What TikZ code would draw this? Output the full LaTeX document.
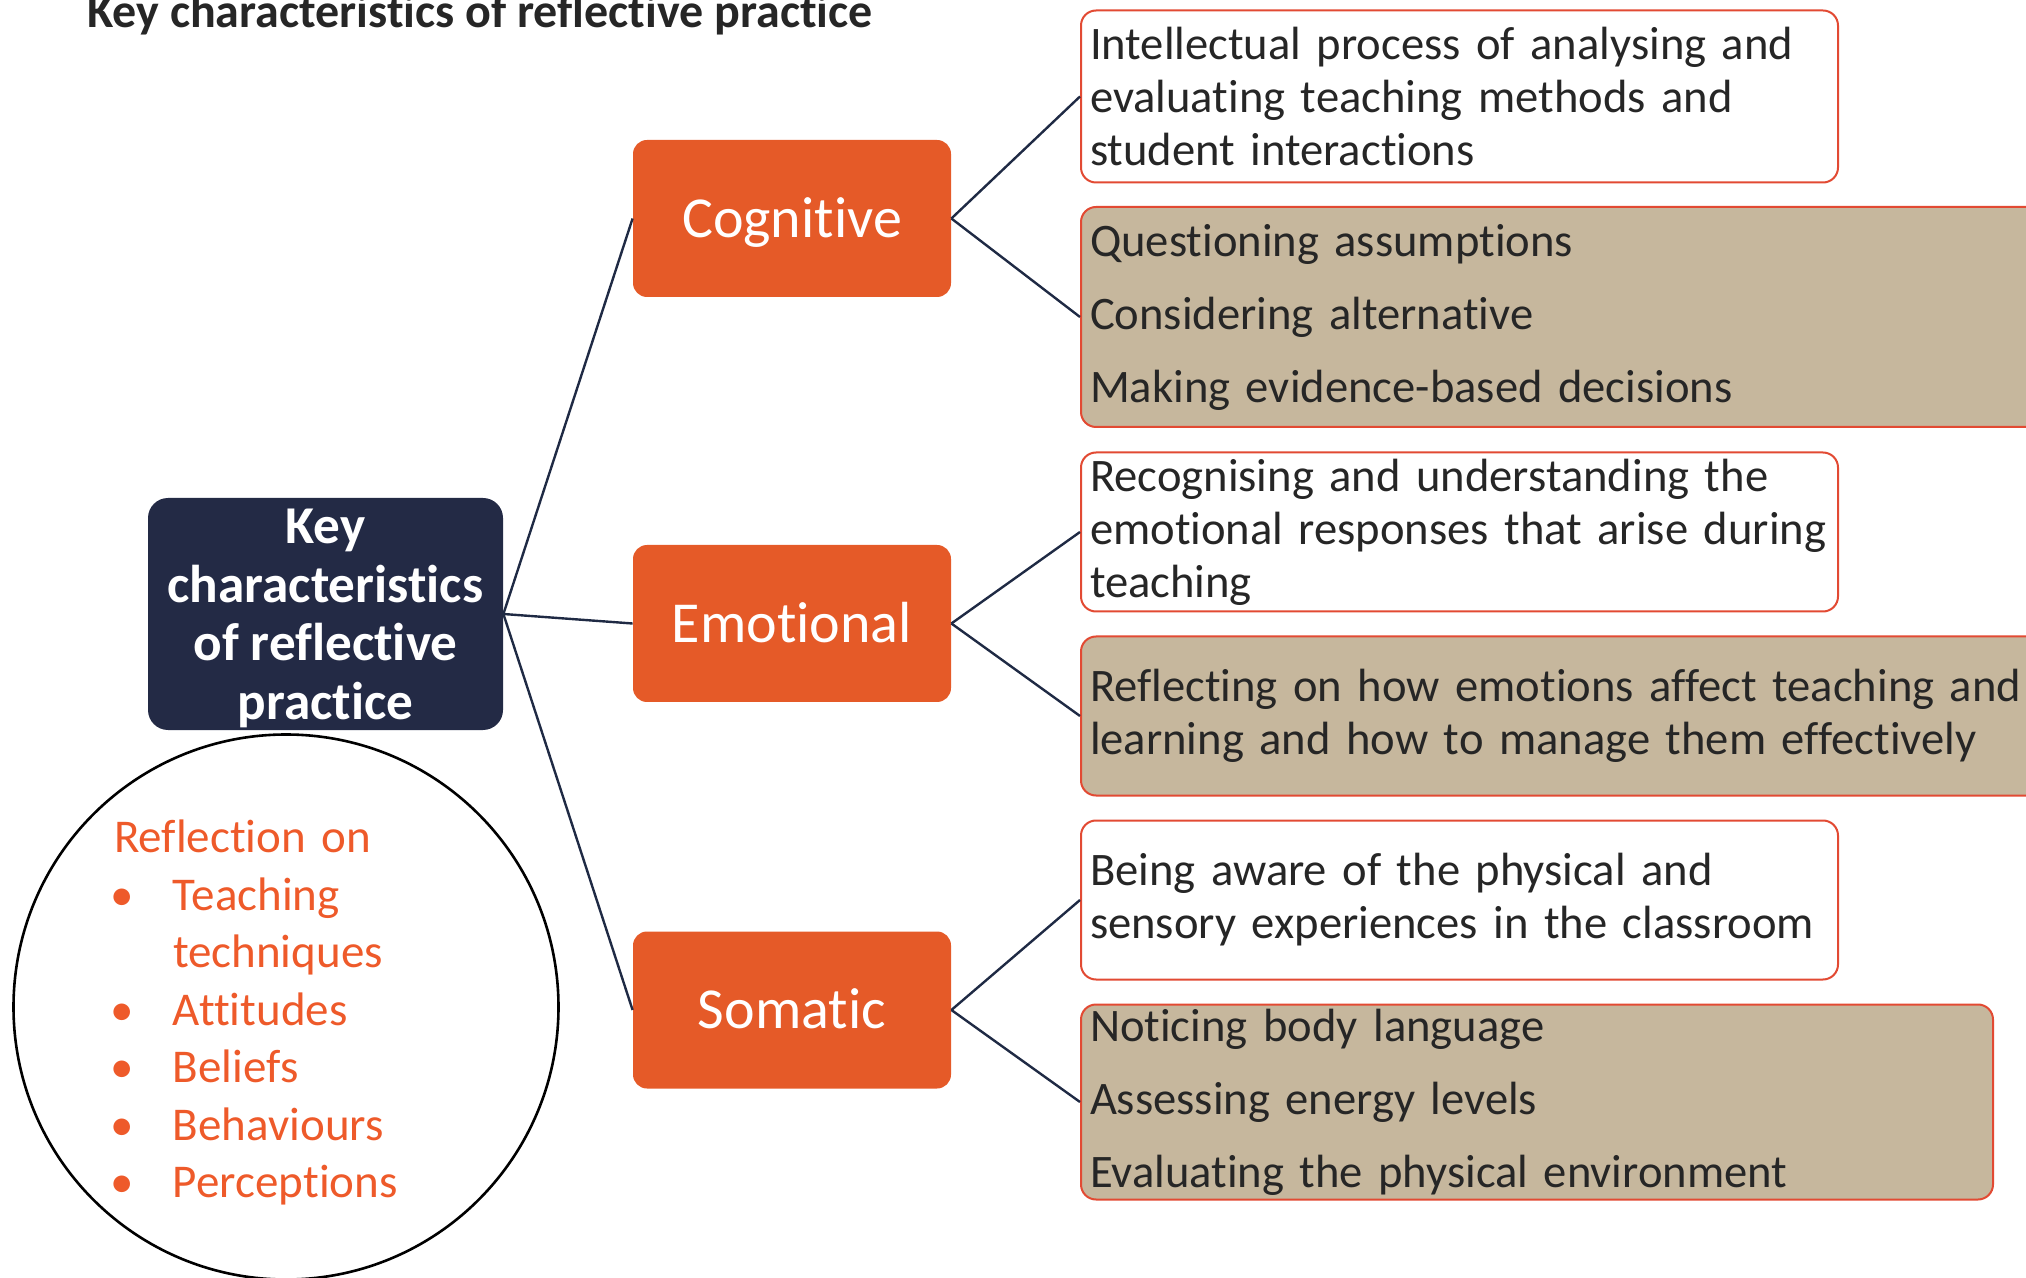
\documentclass[tikz,border=0pt]{standalone}
\usepackage{fontspec}
\setmainfont{Carlito}[Ligatures={NoCommon}]
\definecolor{navy}{HTML}{232A45}
\definecolor{conn}{HTML}{1F2A44}
\definecolor{orng}{HTML}{E55A28}
\definecolor{tan}{HTML}{C6B79D}
\definecolor{redb}{HTML}{E24A33}
\definecolor{corng}{HTML}{EE5A2A}
\definecolor{txt}{HTML}{262626}
\hyphenpenalty=10000
\exhyphenpenalty=10000
\begin{document}
\begin{tikzpicture}[x=0.5pt,y=-0.5pt,
  orangebox/.style={fill=orng, rounded corners=7pt, minimum width=159pt, minimum height=78.5pt, inner sep=0pt, text=white, font=\fontsize{29}{34}\selectfont, text height=18.7pt, text depth=0pt},
  rbox/.style={draw=redb, line width=1pt, rounded corners=7.5pt, align=left, inner xsep=4.5pt, inner ysep=0pt, text=txt, anchor=west},
  wbox/.style={rbox, fill=white, text width=369.5pt, minimum width=378.5pt},
  tbox/.style={rbox, fill=tan},
  para/.style={font=\fontsize{23.3}{26.5}\selectfont},
  list/.style={font=\fontsize{23.3}{36.5}\selectfont},
  connector/.style={draw=conn, line width=1.2pt}
]
\useasboundingbox (0,0) rectangle (2026,1278);

\node[anchor=base west, font=\bfseries\fontsize{24}{28}\selectfont, text=txt, inner sep=0pt] (title) at (87,28) {Key characteristics of reflective practice};

\node[fill=navy, rounded corners=10pt, minimum width=177.5pt, minimum height=116pt, inner sep=0pt, text=white, align=center, font=\bfseries\fontsize{26.6}{29.3}\selectfont] (key) at (325.5,614) {\rule{0pt}{21.5pt}Key\\characteristics\\of reflective\\practice};

\node[orangebox] (cog) at (792,218.5) {Cognitive};
\node[orangebox] (emo) at (792,623.5) {Emotional};
\node[orangebox] (som) at (792,1010) {Somatic};

\node[wbox, para, minimum height=86pt] (b1) at (1080,96.5) {\mbox{Intellectual process of analysing and}\\\mbox{evaluating teaching methods and}\\\mbox{student interactions}};
\node[tbox, list, text width=480pt, minimum width=489pt, minimum height=110pt] (b2) at (1080,317) {\mbox{Questioning assumptions}\\\mbox{Considering alternative}\\\mbox{Making evidence-based decisions}};
\node[wbox, para, minimum height=79.5pt] (b3) at (1080,532) {\mbox{Recognising and understanding the}\\\mbox{emotional responses that arise during}\\\mbox{teaching}};
\node[tbox, para, text width=480pt, minimum width=489pt, minimum height=79.5pt] (b4) at (1080,716) {\mbox{Reflecting on how emotions affect teaching and}\\\mbox{learning and how to manage them effectively}};
\node[wbox, para, minimum height=79.5pt] (b5) at (1080,900) {\mbox{Being aware of the physical and}\\\mbox{sensory experiences in the classroom}};
\node[tbox, list, text width=447pt, minimum width=456pt, minimum height=97.5pt] (b6) at (1080,1102) {\mbox{Noticing body language}\\\mbox{Assessing energy levels}\\\mbox{Evaluating the physical environment}};

\node[circle, draw=black, line width=1.3pt, minimum size=272.5pt, inner sep=0pt, text=corng, text width=172pt, align=left, font=\fontsize{23.5}{28.75}\selectfont] (circ) at (286,1007) {\rule{0pt}{22pt}Reflection on\\
\hspace*{-2pt}\makebox[31.5pt][l]{•}Teaching\\
\hspace*{29.5pt}techniques\\
\hspace*{-2pt}\makebox[31.5pt][l]{•}Attitudes\\
\hspace*{-2pt}\makebox[31.5pt][l]{•}Beliefs\\
\hspace*{-2pt}\makebox[31.5pt][l]{•}Behaviours\\
\hspace*{-2pt}\makebox[31.5pt][l]{•}Perceptions};

\draw[connector] (key.east) -- (cog.west);
\draw[connector] (key.east) -- (emo.west);
\draw[connector] (key.east) -- (som.west);
\draw[connector] (cog.east) -- (b1.west);
\draw[connector] (cog.east) -- (b2.west);
\draw[connector] (emo.east) -- (b3.west);
\draw[connector] (emo.east) -- (b4.west);
\draw[connector] (som.east) -- (b5.west);
\draw[connector] (som.east) -- (b6.west);
\end{tikzpicture}
\end{document}
